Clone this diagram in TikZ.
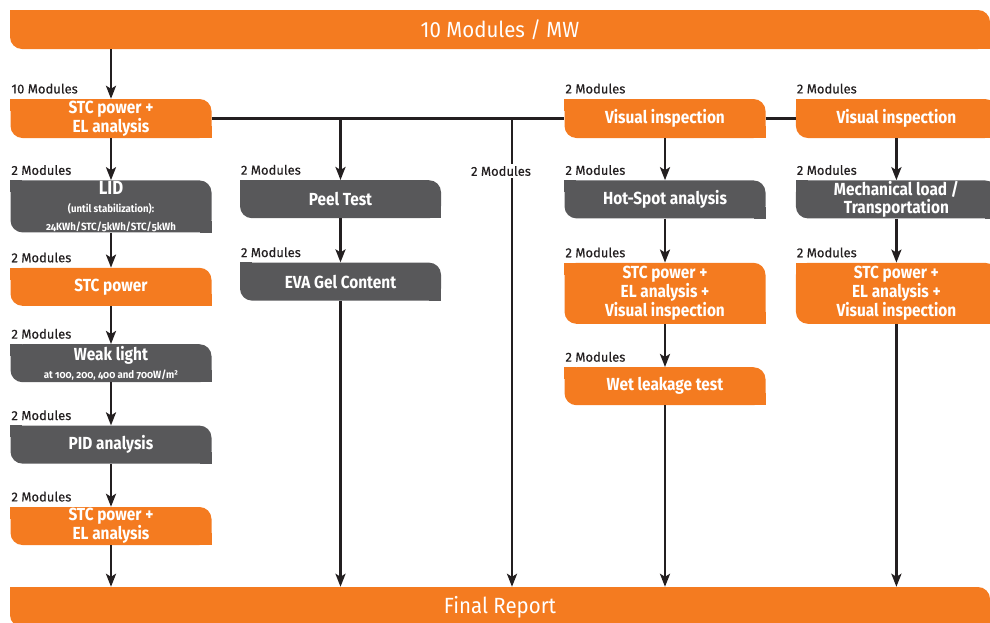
\documentclass[tikz,border=0pt]{standalone}
\usepackage{fontspec}
\setmainfont{Fira Sans}
\usetikzlibrary{arrows.meta,positioning}
\definecolor{brandorange}{HTML}{F47B20}
\definecolor{brandgray}{HTML}{58585A}
\definecolor{ink}{HTML}{231F20}
\newcommand{\subtxt}{\fontsize{10.5}{12}\selectfont\addfontfeature{Numbers=OldStyle,FakeStretch=0.92}}

\begin{document}
\begin{tikzpicture}[x=1pt,y=-1pt,>={Stealth[length=13pt,width=10pt,inset=3pt]}]
	\tikzset{
		box/.style={rounded corners=12pt, minimum width=201pt, minimum height=38pt,
			inner xsep=2pt, inner ysep=0pt, align=center, text=white,
			font=\fontsize{17.5}{18}\selectfont\bfseries\addfontfeature{FakeStretch=0.88}},
		obox/.style={box, fill=brandorange},
		gbox/.style={box, fill=brandgray},
		bar/.style={obox, minimum width=980pt, font=\fontsize{22}{26}\selectfont\addfontfeature{FakeStretch=0.93}},
		lbl/.style={inner sep=1pt, text=ink, font=\fontsize{13}{15}\selectfont\addfontfeature{FakeBold=0.4}},
		link/.style={draw=ink, line width=2.6pt},
		arr/.style={link, ->}
	}
	\useasboundingbox (0,0) rectangle (990,622);
	\node[bar, minimum height=39pt] (top)   at (500,29.5) {10 Modules / MW};
	\node[bar, minimum height=40pt] (final) at (500,607)  {Final Report};
	% first column
	\node[obox, minimum height=39pt] (stc1) at (111,118.5) {STC power +\\EL analysis};
	\node[gbox, minimum height=52pt] (lid) [below=42pt of stc1]
		{{\fontsize{19}{17}\selectfont LID}\\{\subtxt (until stabilization):}\\{\subtxt 24KWh/STC/5kWh/STC/5kWh}};
	\node[obox] (stc2) [below=35pt of lid]  {STC power};
	\node[gbox] (weak) [below=38pt of stc2] {Weak light\\{\subtxt at 100, 200, 400 and 700W/m²}};
	\node[gbox] (pid)  [below=43pt of weak] {PID analysis};
	\node[obox] (stc3) [below=43pt of pid]  {STC power +\\EL analysis};
	% second column
	\node[gbox, anchor=north] (peel) at (340.5,180) {Peel Test};
	\node[gbox] (eva) [below=44pt of peel] {EVA Gel Content};
	% fourth column
	\node[obox, minimum height=39pt] (vis1) at (665,118.5) {Visual inspection};
	\node[gbox] (hot)  [below=42pt of vis1] {Hot-Spot analysis};
	\node[obox, minimum height=61pt] (stc4) [below=44pt of hot] {STC power +\\EL analysis +\\Visual inspection};
	\node[obox] (wet)  [below=43pt of stc4] {Wet leakage test};
	% fifth column
	\node[obox, minimum height=39pt] (vis2) [right=30pt of vis1] {Visual inspection};
	\node[gbox] (mech) [below=42pt of vis2] {Mechanical load /\\Transportation};
	\node[obox, minimum height=61pt] (stc5) [below=44pt of mech] {STC power +\\EL analysis +\\Visual inspection};
	% square off two corners
	\foreach \n in {top,final,stc1,stc2,stc3,vis1,stc4,wet,vis2,stc5} {
		\fill[brandorange] (\n.north west) rectangle ++(12pt,-12pt);
		\fill[brandorange] (\n.south east) rectangle ++(-12pt,12pt);
	}
	\foreach \n in {lid,weak,pid,peel,eva,hot,mech} {
		\fill[brandgray] (\n.north west) rectangle ++(12pt,-12pt);
		\fill[brandgray] (\n.south east) rectangle ++(-12pt,12pt);
	}
	% module counts
	\node[lbl, above right=4pt and 0pt of stc1.north west] (m-stc1) {10 Modules};
	\foreach \n in {lid,stc2,weak,pid,stc3,peel,eva,vis1,hot,stc4,wet,vis2,mech,stc5}
		\node[lbl, above right=4pt and 0pt of \n.north west] (m-\n) {2 Modules};
	% connectors
	\draw[arr] (top.south -| stc1.north) -- (stc1.north);
	\draw[link] (stc1.east) -- (vis1.west);
	\draw[link] (vis1.east) -- (vis2.west);
	\foreach \a/\b in {stc1/lid,lid/stc2,stc2/weak,weak/pid,pid/stc3,peel/eva,vis1/hot,hot/stc4,stc4/wet,vis2/mech,mech/stc5}
		\draw[arr] (\a) -- (\b);
	\draw[arr] (stc1.east -| peel.north) -- (peel.north);
	\coordinate (split) at (512,118.5);
	\draw[arr] (split) -- (final.north -| split);
	\foreach \a in {stc3,eva,wet,stc5}
		\draw[arr] (\a.south) -- (final.north -| \a.south);
	\node[lbl, fill=white, inner sep=2pt] (m-mid) at (501,171) {2 Modules};
\end{tikzpicture}
\end{document}
